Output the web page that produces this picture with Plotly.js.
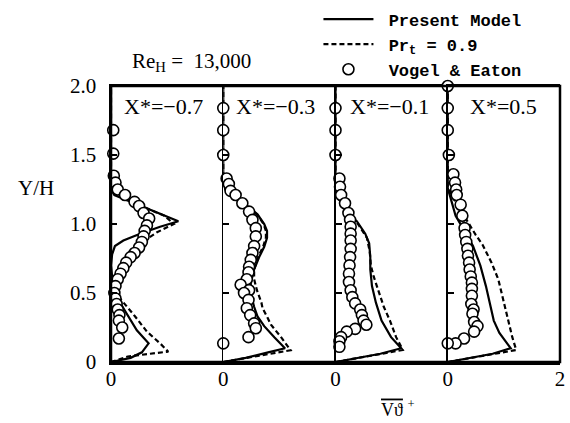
<!DOCTYPE html>
<html>
<head>
<meta charset="utf-8">
<script src="https://cdn.plot.ly/plotly-3.0.1.min.js"></script>
<style>html,body{margin:0;padding:0;background:#fff;}#chart{width:570px;height:423px;}</style>
</head>
<body>
<div id="chart"></div>
<script>
// ---------- data ----------
const panelLabels = ["X*=\u22120.7", "X*=\u22120.3", "X*=\u22120.1", "X*=0.5"];
const seriesNames = ["\u00a0<b>Present Model</b>", "\u00a0<b>Pr<sub>t</sub> = 0.9</b>", "\u00a0<b>Vogel &amp; Eaton</b>"];
const yTickVals = [0, 0.5, 1.0, 1.5, 2.0];
const yTickText = ["0", "0.5", "1.0", "1.5", "2.0"];

// Panel 1 (X* = -0.7)
const p1SolidY = [0, 0.03, 0.07, 0.135, 0.23, 0.35, 0.45, 0.55, 0.62, 0.70, 0.78, 0.84, 0.88, 0.93, 0.98, 1.02, 1.05, 1.09, 1.14, 1.18, 1.21, 1.25, 2.0];
const p1SolidX = [0, 0.35, 0.55, 0.67, 0.46, 0.28, 0.13, 0.05, 0.02, 0.0, 0.02, 0.07, 0.22, 0.52, 0.875, 1.2, 1.02, 0.8, 0.5, 0.25, 0.06, 0, 0];
const p1DashY = [0, 0.04, 0.06, 0.075, 0.135, 0.22, 0.33, 0.43, 0.50, 0.55, 0.62, 0.68, 0.76, 0.86, 0.94, 1.0, 1.06, 1.12, 1.20, 1.27, 1.4, 2.0];
const p1DashX = [0, 0.3, 0.7, 1.02, 0.875, 0.64, 0.43, 0.22, 0.08, 0.04, 0.08, 0.13, 0.28, 0.52, 0.82, 1.12, 0.95, 0.6, 0.25, 0.03, 0, 0];
const p1DataY = [1.68, 1.51, 1.35, 1.30, 1.25, 1.21, 1.16, 1.13, 1.08, 1.04, 0.99, 0.95, 0.91, 0.87, 0.83, 0.79, 0.76, 0.72, 0.68, 0.64, 0.60, 0.55, 0.50, 0.46, 0.42, 0.38, 0.34, 0.30, 0.25, 0.17];
const p1DataX = [0.04, 0.04, 0.05, 0.08, 0.12, 0.25, 0.42, 0.50, 0.58, 0.68, 0.64, 0.60, 0.58, 0.55, 0.50, 0.42, 0.35, 0.27, 0.22, 0.17, 0.12, 0.08, 0.06, 0.08, 0.10, 0.12, 0.15, 0.14, 0.20, 0.14];

// Panel 2 (X* = -0.3)
const p2SolidY = [0, 0.03, 0.07, 0.10, 0.18, 0.26, 0.33, 0.40, 0.48, 0.57, 0.67, 0.76, 0.835, 0.90, 0.95, 1.0, 1.07, 1.13, 1.20, 1.25, 1.30, 2.0];
const p2SolidX = [0, 0.4, 0.8, 1.1, 0.91, 0.73, 0.61, 0.55, 0.50, 0.49, 0.55, 0.64, 0.73, 0.78, 0.78, 0.73, 0.61, 0.43, 0.19, 0.04, 0, 0];
const p2DashY = [0, 0.03, 0.06, 0.085, 0.18, 0.27, 0.32, 0.39, 0.43, 0.52, 0.60, 0.67, 0.76, 0.835, 0.90, 0.95, 1.0, 1.07, 1.13, 1.20, 1.25, 1.30, 2.0];
const p2DashX = [0, 0.45, 0.9, 1.2, 1.03, 0.85, 0.79, 0.70, 0.68, 0.60, 0.55, 0.55, 0.62, 0.71, 0.76, 0.76, 0.72, 0.60, 0.42, 0.18, 0.04, 0, 0];
const p2DataY = [1.84, 1.68, 1.50, 1.33, 1.29, 1.24, 1.21, 1.15, 1.09, 1.03, 0.97, 0.91, 0.84, 0.79, 0.74, 0.69, 0.65, 0.60, 0.56, 0.52, 0.50, 0.45, 0.39, 0.34, 0.28, 0.245, 0.18, 0.135];
const p2DataX = [0, 0, 0, 0.06, 0.10, 0.13, 0.22, 0.34, 0.46, 0.52, 0.58, 0.58, 0.55, 0.52, 0.49, 0.46, 0.45, 0.42, 0.31, 0.46, 0.37, 0.45, 0.42, 0.48, 0.55, 0.58, 0.45, 0];

// Panel 3 (X* = -0.1)
const p3SolidY = [0, 0.03, 0.06, 0.10, 0.18, 0.30, 0.43, 0.55, 0.67, 0.76, 0.86, 0.93, 1.02, 1.08, 1.15, 1.22, 1.30, 2.0];
const p3SolidX = [0, 0.4, 0.8, 1.17, 0.99, 0.82, 0.72, 0.65, 0.62, 0.62, 0.60, 0.53, 0.38, 0.20, 0.10, 0.03, 0, 0];
const p3DashY = [0, 0.03, 0.06, 0.087, 0.18, 0.30, 0.40, 0.52, 0.62, 0.70, 0.80, 0.90, 1.0, 1.08, 1.15, 1.22, 1.30, 2.0];
const p3DashX = [0, 0.4, 0.85, 1.2, 1.08, 0.97, 0.86, 0.76, 0.68, 0.63, 0.61, 0.56, 0.40, 0.21, 0.10, 0.03, 0, 0];
const p3DataY = [1.84, 1.68, 1.50, 1.33, 1.27, 1.21, 1.15, 1.08, 1.03, 0.98, 0.93, 0.88, 0.82, 0.76, 0.70, 0.64, 0.58, 0.52, 0.47, 0.425, 0.38, 0.34, 0.30, 0.27, 0.24, 0.22, 0.18, 0.15, 0.11];
const p3DataX = [0, 0, 0, 0.07, 0.08, 0.10, 0.17, 0.23, 0.26, 0.27, 0.27, 0.27, 0.27, 0.26, 0.25, 0.24, 0.24, 0.27, 0.30, 0.35, 0.44, 0.47, 0.50, 0.55, 0.35, 0.20, 0.10, 0.07, 0.07];

// Panel 4 (X* = 0.5)
const p4SolidY = [0, 0.03, 0.06, 0.10, 0.21, 0.30, 0.45, 0.55, 0.70, 0.84, 0.97, 1.06, 1.16, 1.26, 2.0];
const p4SolidX = [0, 0.4, 0.8, 1.12, 0.92, 0.82, 0.74, 0.68, 0.58, 0.45, 0.27, 0.14, 0.07, 0, 0];
const p4DashY = [0, 0.03, 0.06, 0.087, 0.18, 0.30, 0.45, 0.60, 0.72, 0.85, 0.92, 1.0, 1.11, 1.20, 1.27, 2.0];
const p4DashX = [0, 0.4, 0.85, 1.22, 1.15, 1.08, 1.0, 0.9, 0.78, 0.62, 0.5, 0.38, 0.20, 0.08, 0, 0];
const p4DataY = [2.0, 1.84, 1.68, 1.50, 1.36, 1.30, 1.25, 1.21, 1.14, 1.06, 0.97, 0.92, 0.87, 0.82, 0.77, 0.72, 0.67, 0.62, 0.575, 0.53, 0.48, 0.42, 0.38, 0.35, 0.29, 0.26, 0.22, 0.17, 0.135, 0.135];
const p4DataX = [0, 0, 0, 0.02, 0.10, 0.13, 0.15, 0.16, 0.23, 0.26, 0.30, 0.31, 0.33, 0.35, 0.36, 0.38, 0.39, 0.41, 0.43, 0.43, 0.43, 0.42, 0.46, 0.44, 0.47, 0.53, 0.47, 0.29, 0.14, 0.0];

// ---------- build traces ----------
const panels = [
  {sx: p1SolidX, sy: p1SolidY, dx: p1DashX, dy: p1DashY, mx: p1DataX, my: p1DataY},
  {sx: p2SolidX, sy: p2SolidY, dx: p2DashX, dy: p2DashY, mx: p2DataX, my: p2DataY},
  {sx: p3SolidX, sy: p3SolidY, dx: p3DashX, dy: p3DashY, mx: p3DataX, my: p3DataY},
  {sx: p4SolidX, sy: p4SolidY, dx: p4DashX, dy: p4DashY, mx: p4DataX, my: p4DataY}
];

const traces = [];
panels.forEach((p, i) => {
  const xa = i === 0 ? 'x' : 'x' + (i + 1);
  const ya = i === 0 ? 'y' : 'y' + (i + 1);
  traces.push({x: p.sx, y: p.sy, xaxis: xa, yaxis: ya, mode: 'lines', name: seriesNames[0],
    legendgroup: 'solid', showlegend: i === 0, line: {color: '#000', width: 2.2}, hoverinfo: 'skip'});
  traces.push({x: p.dx, y: p.dy, xaxis: xa, yaxis: ya, mode: 'lines', name: seriesNames[1],
    legendgroup: 'dash', showlegend: i === 0, line: {color: '#000', width: 2.2, dash: '5px,3px'}, hoverinfo: 'skip'});
});
panels.forEach((p, i) => {
  const xa = i === 0 ? 'x' : 'x' + (i + 1);
  const ya = i === 0 ? 'y' : 'y' + (i + 1);
  traces.push({x: p.mx, y: p.my, xaxis: xa, yaxis: ya, mode: 'markers', name: seriesNames[2],
    legendgroup: 'data', showlegend: i === 0, cliponaxis: false,
    marker: {symbol: 'circle', size: 11, color: '#fff', line: {color: '#000', width: 1.6}}, hoverinfo: 'skip'});
});

const tickFont = {family: 'Liberation Serif, Times New Roman, serif', size: 21, color: '#000'};
const layout = {
  width: 570, height: 423,
  margin: {l: 111, r: 10, t: 86, b: 61, autoexpand: false},
  paper_bgcolor: '#fff', plot_bgcolor: '#fff',
  showlegend: true,
  legend: {x: 0.462, y: 1.306, xanchor: 'left', yanchor: 'top', bgcolor: 'rgba(0,0,0,0)',
    font: {family: 'Liberation Mono, Courier New, monospace', size: 17, color: '#000'},
    itemwidth: 50, tracegroupgap: 0, traceorder: 'normal'},
  font: tickFont,
  annotations: [],
  shapes: [{type: 'rect', xref: 'paper', yref: 'paper', x0: 0, x1: 1, y0: 0, y1: 1,
    line: {color: '#000', width: 2.5}, layer: 'above'}]
};
for (let i = 0; i < 4; i++) {
  const xk = i === 0 ? 'xaxis' : 'xaxis' + (i + 1);
  const yk = i === 0 ? 'yaxis' : 'yaxis' + (i + 1);
  const last = i === 3;
  layout[xk] = {domain: [i / 4, (i + 1) / 4], range: [0, 2], anchor: i === 0 ? 'y' : 'y' + (i + 1),
    showgrid: false, zeroline: false, showline: true, linecolor: '#000', linewidth: 2.5, mirror: true,
    tickmode: 'array', tickvals: last ? [0, 2] : [0], ticktext: last ? ['0', '2'] : ['0'],
    ticks: '', ticklabelstandoff: -4, tickfont: tickFont, fixedrange: true};
  layout[yk] = {domain: [0, 1], range: [0, 2], anchor: i === 0 ? 'x' : 'x' + (i + 1),
    showgrid: false, zeroline: false, showline: true, linecolor: '#000', linewidth: i === 0 ? 2.5 : 1.6,
    tickmode: 'array', tickvals: yTickVals, ticktext: yTickText, showticklabels: i === 0,
    ticks: 'inside', ticklen: 6, tickwidth: 1.5, tickcolor: '#000',
    ticklabelstandoff: 8, tickfont: tickFont, fixedrange: true};
  if (i > 0) layout[yk].matches = 'y';
  const offsets = [0.1, 0.1, 0.115, 0.18];
  layout.annotations.push({xref: (i === 0 ? 'x' : 'x' + (i + 1)) + ' domain', yref: 'paper',
    x: offsets[i], y: 0.925, xanchor: 'left', yanchor: 'middle', showarrow: false,
    text: panelLabels[i], font: {family: 'Liberation Serif, serif', size: 22, color: '#000'}});
}
layout.annotations.push({xref: 'paper', yref: 'paper', x: 0.18, y: 1.087, xanchor: 'center', yanchor: 'middle',
  showarrow: false, text: 'Re<sub>H</sub> =  13,000', font: {family: 'Liberation Serif, serif', size: 21, color: '#000'}});
layout.annotations.push({xref: 'paper', yref: 'paper', x: -0.167, y: 0.63, xanchor: 'center', yanchor: 'middle',
  showarrow: false, text: 'Y/H', font: {family: 'Liberation Serif, serif', size: 21, color: '#000'}});
layout.annotations.push({xref: 'paper', yref: 'paper', x: 0.64, y: -0.168, xanchor: 'center', yanchor: 'middle',
  showarrow: false, text: '<span style="text-decoration:overline">V\u03D1</span> <sup>+</sup>',
  font: {family: 'Liberation Serif, serif', size: 18, color: '#000'}});

Plotly.newPlot('chart', traces, layout, {displayModeBar: false, staticPlot: true});
</script>
</body>
</html>
